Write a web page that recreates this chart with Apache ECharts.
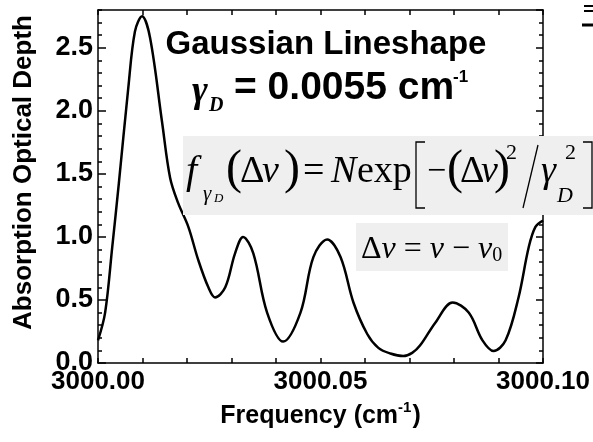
<!DOCTYPE html>
<html><head><meta charset="utf-8">
<script src="https://cdn.jsdelivr.net/npm/echarts@6/dist/echarts.min.js"></script>
<style>html,body{margin:0;padding:0;background:#fff}#c{width:593px;height:442px}</style>
</head><body><div id="c"></div>
<script>
// Frequency (cm^-1)
const freq = [3000.0000, 3000.0016, 3000.0032, 3000.0047, 3000.0068, 3000.0083, 3000.0099, 3000.0117,
  3000.0144, 3000.0162, 3000.0180, 3000.0203, 3000.0225, 3000.0248, 3000.0263, 3000.0286, 3000.0308,
  3000.0326, 3000.0349, 3000.0380, 3000.0416, 3000.0455, 3000.0484, 3000.0515, 3000.0545, 3000.0574,
  3000.0605, 3000.0630, 3000.0657, 3000.0686, 3000.0706, 3000.0724, 3000.0758, 3000.0797, 3000.0833,
  3000.0864, 3000.0889, 3000.0916, 3000.0945, 3000.0968, 3000.0983, 3000.1000];
// Absorption optical depth
const depth = [0.18, 0.40, 0.92, 1.43, 2.18, 2.63, 2.75, 2.58,
  1.91, 1.47, 1.27, 1.08, 0.82, 0.60, 0.52, 0.60, 0.87,
  1.00, 0.87, 0.40, 0.17, 0.40, 0.84, 0.98, 0.84, 0.48,
  0.23, 0.12, 0.075, 0.055, 0.08, 0.14, 0.32, 0.48, 0.40,
  0.18, 0.095, 0.18, 0.52, 0.92, 1.08, 1.13];
const xTickLabels = ['3000.00', '3000.05', '3000.10'];
const yTickLabels = ['0.0', '0.5', '1.0', '1.5', '2.0', '2.5'];

const SANS = '"Liberation Sans", Arial, sans-serif';
const SERIF = '"Liberation Serif", "Times New Roman", serif';

const chart = echarts.init(document.getElementById('c'), null, {renderer: 'canvas'});
const data = freq.map((f, i) => [f, depth[i]]);

function T(text, x, y, size, italic, extra) {
  return {type: 'text', z: 110, style: Object.assign({
    text: text, x: x, y: y, fill: '#000',
    font: (italic ? 'italic ' : '') + size + 'px ' + SERIF,
    textVerticalAlign: 'middle', verticalAlign: 'middle'
  }, extra || {})};
}
function L(points, w) {
  return {type: 'polyline', z: 110, shape: {points: points}, style: {stroke: '#000', lineWidth: w || 1.3, fill: null}};
}

const tickBase = {show: true, inside: true, lineStyle: {color: '#000', width: 1.5}};
const lineBase = {show: true, onZero: false, lineStyle: {color: '#000', width: 1.5}};

const option = {
  animation: false,
  backgroundColor: '#fff',
  grid: {left: 98, right: 50, top: 10, bottom: 79, containLabel: false},
  xAxis: [{
    type: 'value', position: 'bottom', min: 3000, max: 3000.1, interval: 0.01,
    axisLine: lineBase,
    axisTick: Object.assign({}, tickBase, {length: 5}),
    splitLine: {show: false},
    axisLabel: {
      color: '#000', fontFamily: SANS, fontWeight: 'bold', fontSize: 26, margin: 6,
      formatter: function (v) { const s = v.toFixed(2); return xTickLabels.indexOf(s) >= 0 ? s : ''; }
    },
    name: 'Frequency (cm{s|-1})', nameLocation: 'middle', nameGap: 36,
    nameTextStyle: {
      color: '#000', fontFamily: SANS, fontWeight: 'bold', fontSize: 25,
      rich: {s: {fontFamily: SANS, fontWeight: 'bold', fontSize: 15, color: '#000', verticalAlign: 'top', padding: [0, 1, 18, 0]}}
    }
  }, {
    type: 'value', position: 'top', min: 3000, max: 3000.1, interval: 0.01,
    axisLine: lineBase,
    axisTick: Object.assign({}, tickBase, {length: 5}),
    splitLine: {show: false}, axisLabel: {show: false}
  }],
  yAxis: [{
    type: 'value', position: 'left', min: 0, max: 2.8, interval: 0.5,
    axisLine: lineBase,
    axisTick: Object.assign({}, tickBase, {length: 8}),
    splitLine: {show: false},
    axisLabel: {
      color: '#000', fontFamily: SANS, fontWeight: 'bold', fontSize: 27, margin: 5, showMaxLabel: false,
      formatter: function (v) { const s = v.toFixed(1); return yTickLabels.indexOf(s) >= 0 ? s : ''; }
    },
    name: 'Absorption Optical Depth', nameLocation: 'middle', nameGap: 61,
    nameTextStyle: {color: '#000', fontFamily: SANS, fontWeight: 'bold', fontSize: 26, padding: [0, 0, 0, 28]}
  }, {
    type: 'value', position: 'left', min: 0, max: 2.8, interval: 0.1,
    axisLine: {show: false}, axisTick: Object.assign({}, tickBase, {length: 4}),
    splitLine: {show: false}, axisLabel: {show: false}
  }, {
    type: 'value', position: 'right', min: 0, max: 2.8, interval: 0.5,
    axisLine: lineBase, axisTick: Object.assign({}, tickBase, {length: 7}),
    splitLine: {show: false}, axisLabel: {show: false}
  }, {
    type: 'value', position: 'right', min: 0, max: 2.8, interval: 0.1,
    axisLine: {show: false}, axisTick: Object.assign({}, tickBase, {length: 4}),
    splitLine: {show: false}, axisLabel: {show: false}
  }],
  series: [{
    type: 'line', data: data, xAxisIndex: 0, yAxisIndex: 0,
    showSymbol: false, smooth: 0.35, clip: true,
    lineStyle: {color: '#000', width: 2.5}
  }],
  graphic: {elements: [
    {type: 'text', z: 110, style: {text: 'Gaussian Lineshape', x: 326, y: 45, fill: '#000',
      font: 'bold 33px ' + SANS, textAlign: 'center', align: 'center', textVerticalAlign: 'middle', verticalAlign: 'middle'}},
    T('γ', 192, 92, 38, true, {font: 'italic bold 38px ' + SERIF}),
    T('D', 209, 106, 20, true, {font: 'italic bold 20px ' + SERIF}),
    {type: 'text', z: 110, style: {text: '= 0.0055 cm', x: 234, y: 88, fill: '#000',
      font: 'bold 39px ' + SANS, textVerticalAlign: 'middle', verticalAlign: 'middle'}},
    {type: 'text', z: 110, style: {text: '-1', x: 453, y: 77, fill: '#000',
      font: 'bold 17px ' + SANS, textVerticalAlign: 'middle', verticalAlign: 'middle'}},
    // formula box 1
    {type: 'rect', z: 100, shape: {x: 183, y: 136, width: 410, height: 79}, style: {fill: '#efefef'}},
    T('f', 186, 172, 40, true),
    T('γ', 203, 194, 21, true),
    T('D', 214, 199, 13, true),
    T('(', 226, 170, 48),
    T('Δ', 240, 172, 38),
    T('ν', 262, 172, 38, true),
    T(')', 284, 170, 48),
    T('=', 303, 172, 38),
    T('N', 331, 172, 38, true),
    T('exp', 357, 172, 38),
    L([[425, 142], [416, 142], [416, 208], [425, 208]]),
    T('−', 427, 172, 34),
    T('(', 447, 170, 48),
    T('Δ', 460, 172, 38),
    T('ν', 481, 172, 38, true),
    T(')', 494, 170, 48),
    T('2', 506, 153, 22),
    L([[538, 145], [523, 208]]),
    T('γ', 541, 172, 38, true),
    T('2', 565, 153, 22),
    T('D', 557, 196, 22, true),
    L([[583, 142], [592, 142], [592, 208], [583, 208]]),
    // formula box 2
    {type: 'rect', z: 100, shape: {x: 356, y: 223, width: 152, height: 48}, style: {fill: '#efefef'}},
    {type: 'text', z: 110, style: {
      text: '{r|Δ}{i|ν}{r| = }{i|ν}{r| − }{i|ν}{s|0}', x: 361, y: 248,
      textVerticalAlign: 'middle', verticalAlign: 'middle',
      rich: {
        r: {font: '32px ' + SERIF, fill: '#000', verticalAlign: 'bottom', lineHeight: 36},
        i: {font: 'italic 32px ' + SERIF, fill: '#000', verticalAlign: 'bottom', lineHeight: 36},
        s: {font: '20px ' + SERIF, fill: '#000', verticalAlign: 'bottom', lineHeight: 20}
      }
    }},
    // cropped marks at the top-right edge
    L([[584, 6], [593, 6]], 2),
    L([[584, 11], [593, 11]], 2),
    L([[582, 25], [593, 25]], 3)
  ]}
};
chart.setOption(option);
</script>
</body></html>
